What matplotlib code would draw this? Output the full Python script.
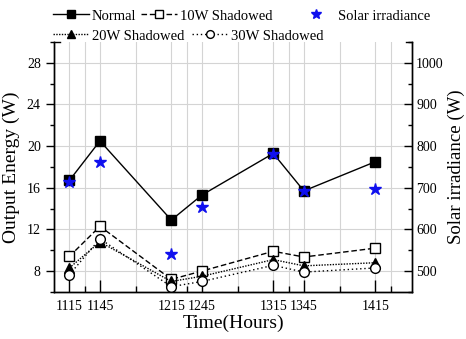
import matplotlib
matplotlib.use("Agg")
import matplotlib.pyplot as plt
from matplotlib.ticker import FixedLocator, MultipleLocator

plt.rcParams['font.family'] = ['Liberation Serif', 'DejaVu Serif']

times = [1115, 1145, 1215, 1245, 1315, 1345, 1415]
time_labels = ['1115', '1145', '1215', '1245', '1315', '1345', '1415']
normal = [16.7, 20.5, 12.9, 15.3, 19.3, 15.7, 18.5]
shadow10 = [9.4, 12.3, 7.2, 8.0, 9.9, 9.35, 10.2]
shadow20 = [8.3, 10.8, 7.0, 7.5, 9.1, 8.5, 8.8]
shadow30 = [7.65, 11.1, 6.5, 7.0, 8.55, 7.9, 8.3]
irradiance = [713, 762, 540, 653, 782, 692, 696]
minor_x = [1130, 1180, 1230, 1280, 1330, 1380, 1430]

fig = plt.figure(figsize=(4.66, 3.39), dpi=100)
ax = fig.add_axes([0.116, 0.139, 0.768, 0.737])
ax2 = ax.twinx()

ax.set_xlim(1100, 1451)
ax.set_ylim(6, 30)
ax2.set_ylim(450, 1050)

# grid
grid_kw = dict(color='#d4d4d4', lw=0.8, zorder=0)
for x in times + minor_x:
    ax.axvline(x, **grid_kw)
for y in [8, 12, 16, 20, 24, 28]:
    ax.axhline(y, **grid_kw)

ms = 6.5
h1, = ax.plot(times, normal, '-', color='black', lw=1.0, marker='s', ms=ms,
              mfc='black', mec='black', label='Normal', zorder=3)
h2, = ax.plot(times, shadow10, color='black', lw=1.0, ls=(0, (4, 2)), marker='s', ms=ms,
              mfc='white', mec='black', label='10W Shadowed', zorder=3)
h3, = ax.plot(times, shadow20, color='black', lw=1.0, ls=(0, (1, 1)), marker='^', ms=ms,
              mfc='black', mec='black', label='20W Shadowed', zorder=3)
h4, = ax.plot(times, shadow30, color='black', lw=1.0, ls=(0, (1, 2)), marker='o', ms=ms + 0.5,
              mfc='white', mec='black', label='30W Shadowed', zorder=3)
h5, = ax2.plot(times, irradiance, ls='none', marker='*', ms=9, color='#1010ee',
               label='Solar irradiance', zorder=4)

ax.xaxis.set_major_locator(FixedLocator(times))
ax.set_xticklabels(time_labels)
ax.xaxis.set_minor_locator(FixedLocator(minor_x))
ax.yaxis.set_major_locator(MultipleLocator(4))
ax.yaxis.set_minor_locator(MultipleLocator(2))
ax2.set_yticks([500, 600, 700, 800, 900, 1000])
ax2.yaxis.set_minor_locator(MultipleLocator(50))

ax.tick_params(axis='x', which='major', direction='in', length=9, width=1, labelsize=10, pad=6)
ax.tick_params(axis='x', which='minor', direction='in', length=4, width=1)
ax.tick_params(axis='y', which='major', direction='out', length=6, width=1, labelsize=10)
ax.tick_params(axis='y', which='minor', direction='out', length=3, width=1)
ax2.tick_params(axis='y', which='major', direction='in', length=6, width=1, labelsize=10, pad=3)
ax2.tick_params(axis='y', which='minor', direction='in', length=3, width=1)

for a in (ax, ax2):
    a.spines['top'].set_visible(False)
    for s in ('left', 'right', 'bottom'):
        a.spines[s].set_linewidth(1.0)

# small corner stubs at the top of the frame
ax.plot([0, 0.016], [1, 1], transform=ax.transAxes, color='black', lw=1.0, clip_on=False)
ax.plot([0.984, 1], [1, 1], transform=ax.transAxes, color='black', lw=1.0, clip_on=False)

ax.set_xlabel('Time(Hours)', fontsize=14, labelpad=1)
ax.set_ylabel('Output Energy (W)', fontsize=14, labelpad=5)
ax2.set_ylabel('Solar irradiance (W)', fontsize=13.5, labelpad=3)

leg_kw = dict(frameon=False, fontsize=10.5, handlelength=2.5, handletextpad=0.2,
              borderaxespad=0, borderpad=0, markerscale=0.8)
leg1 = fig.legend(handles=[h1, h2], loc='center left', bbox_to_anchor=(0.113, 0.953),
                  ncol=2, columnspacing=0.3, **leg_kw)
leg3 = fig.legend(handles=[h5], loc='center left', bbox_to_anchor=(0.64, 0.953),
                  ncol=1, **leg_kw)
leg2 = fig.legend(handles=[h3, h4], loc='center left', bbox_to_anchor=(0.113, 0.894),
                  ncol=2, columnspacing=0.5, **leg_kw)

fig.savefig('out.png', dpi=100)
